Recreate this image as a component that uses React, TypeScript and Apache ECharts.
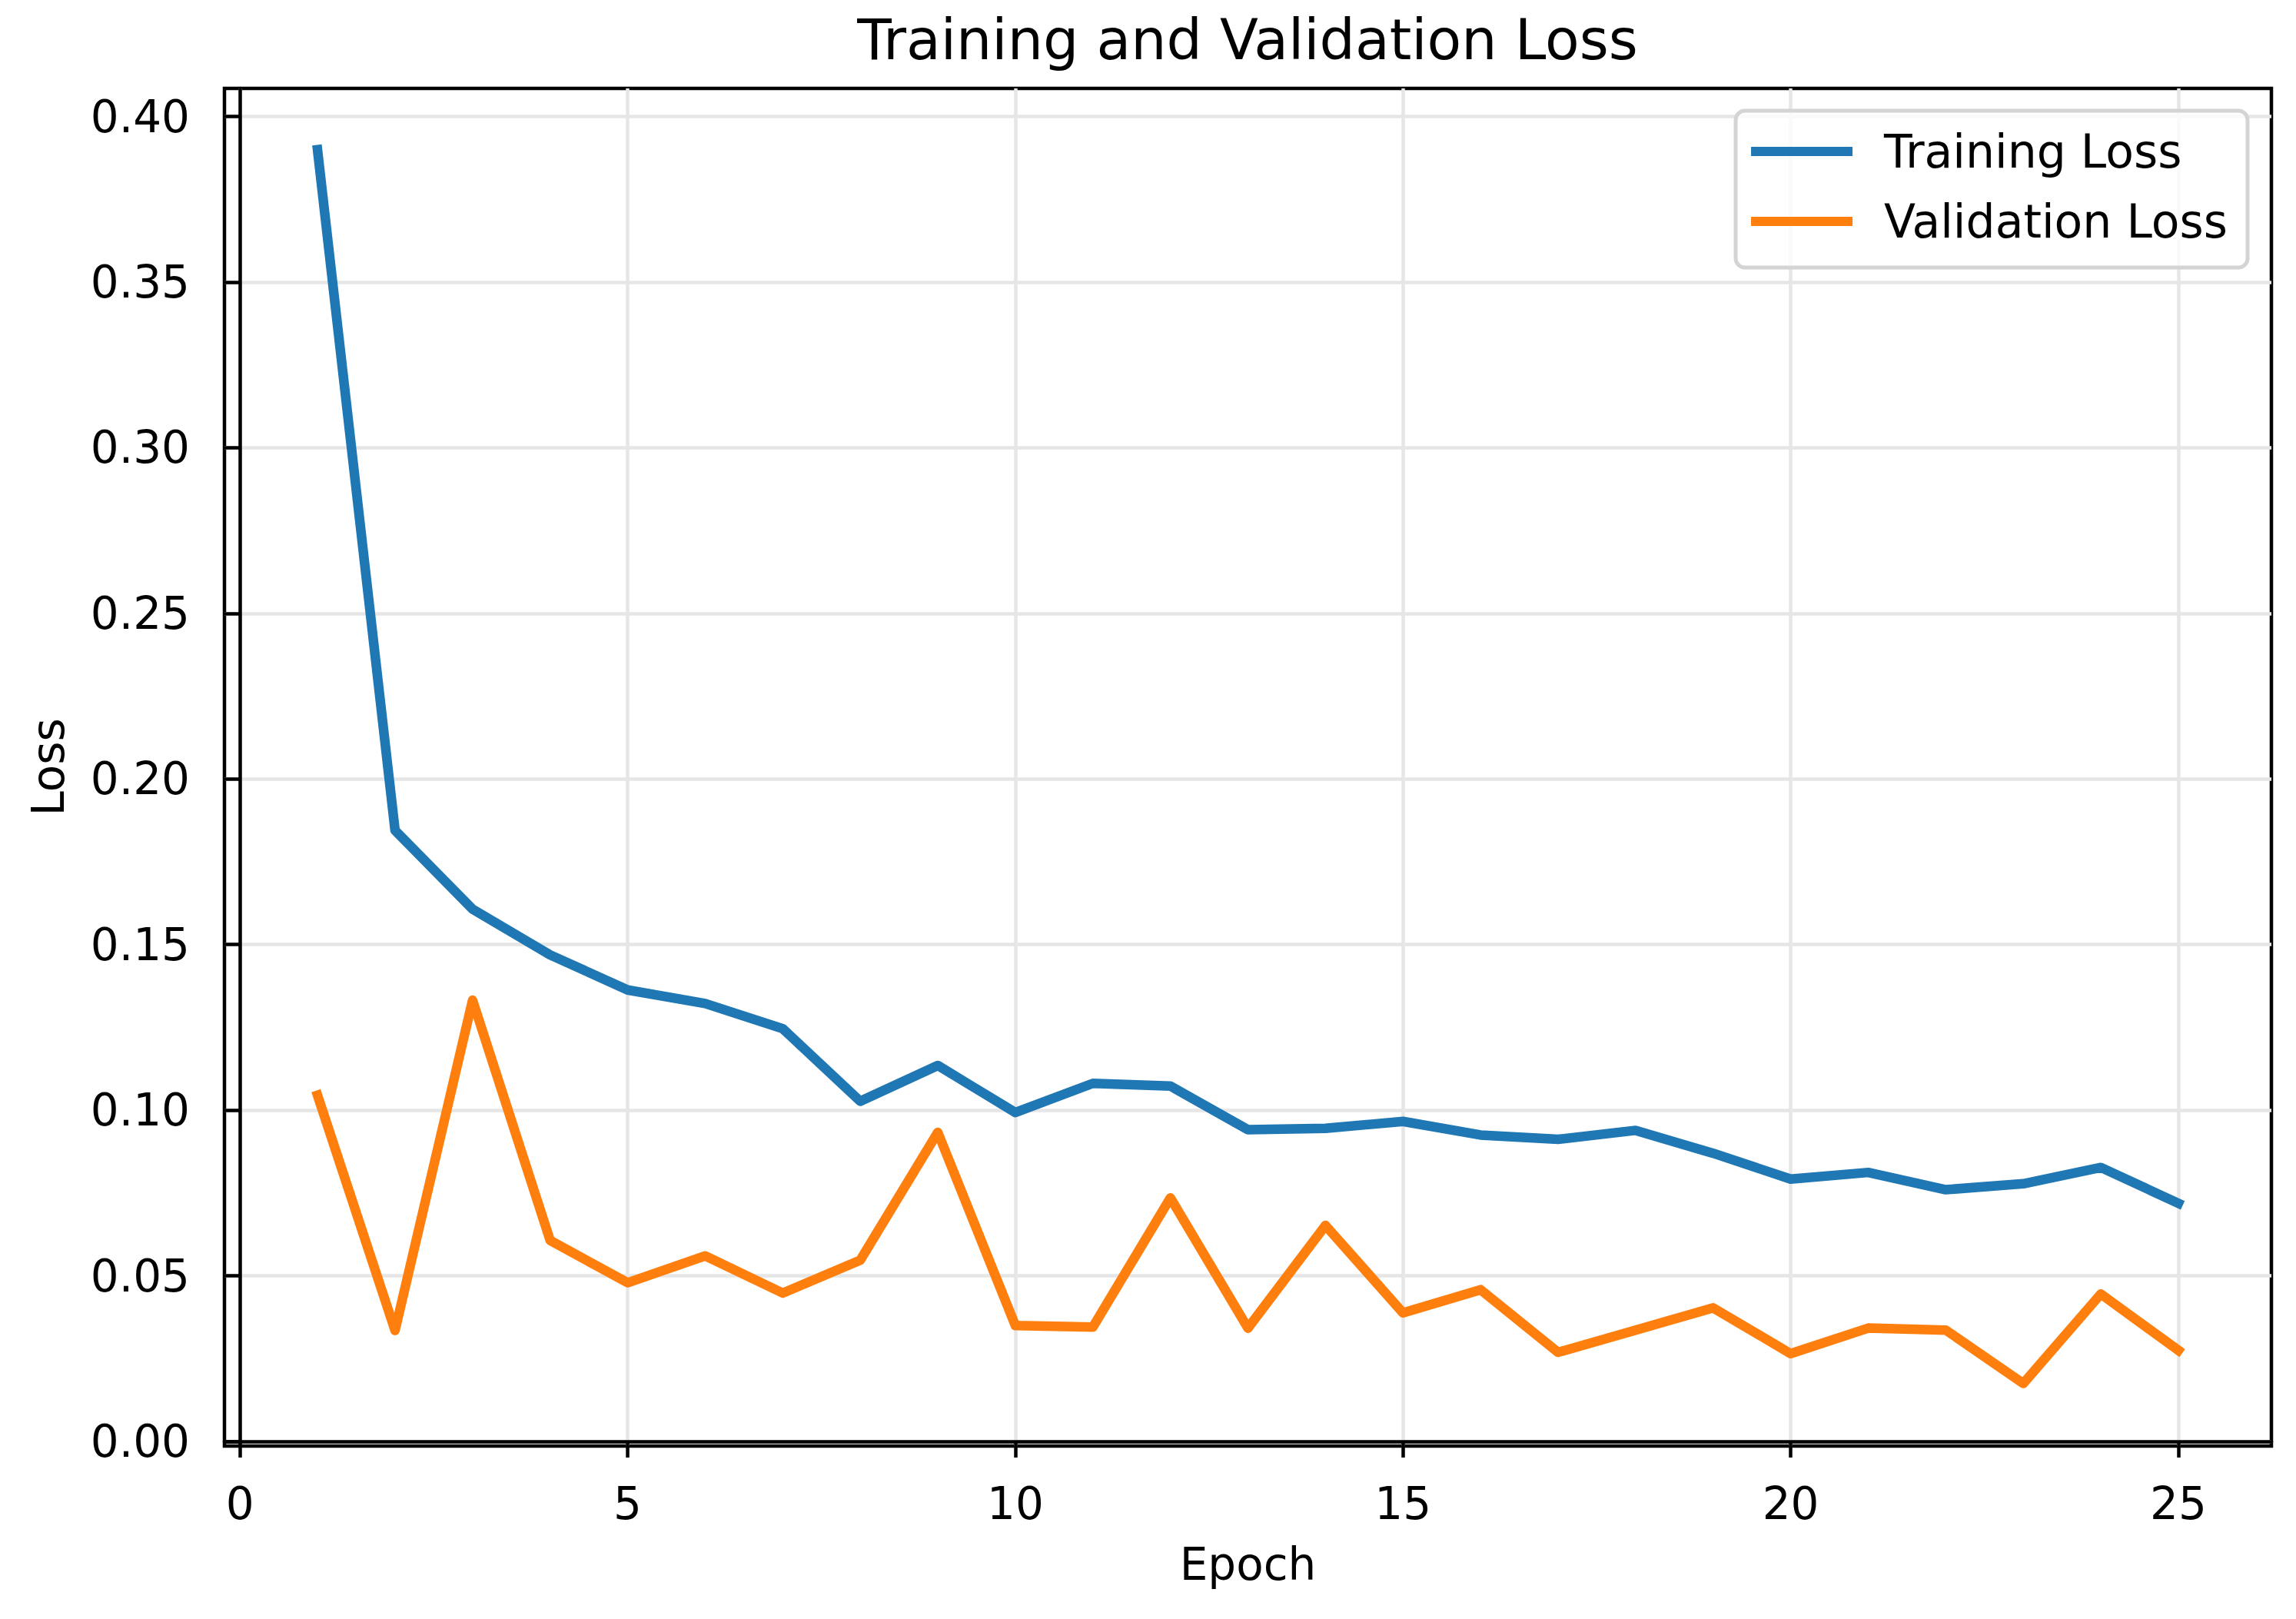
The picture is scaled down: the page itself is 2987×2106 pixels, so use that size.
import React, { useEffect, useRef } from 'react';
import * as echarts from 'echarts';

// values
const epochs = [1, 2, 3, 4, 5, 6, 7, 8, 9, 10, 11, 12, 13, 14, 15, 16, 17, 18, 19, 20, 21, 22, 23, 24, 25];
const trainingLoss = [
  0.390, 0.1845, 0.1607, 0.1469, 0.1363, 0.1322, 0.1246, 0.1027, 0.1135, 0.0993,
  0.1081, 0.1073, 0.0941, 0.0945, 0.0966, 0.0925, 0.0912, 0.0939, 0.0870, 0.0792,
  0.0812, 0.0760, 0.0778, 0.0827, 0.0719,
];
const validationLoss = [
  0.1045, 0.0335, 0.1332, 0.0607, 0.0479, 0.0560, 0.0448, 0.0547, 0.0933, 0.0350,
  0.0345, 0.0735, 0.0342, 0.0652, 0.0388, 0.0458, 0.0269, 0.0336, 0.0403, 0.0265,
  0.0342, 0.0336, 0.0175, 0.0445, 0.0275,
];
const xTicks = [0, 5, 10, 15, 20, 25];
const yTicks = [0, 0.05, 0.1, 0.15, 0.2, 0.25, 0.3, 0.35, 0.4];

const FONT = 'DejaVu Sans';
const SPINE = 4.5;
const LINE_W = 12.5;

const App: React.FC = () => {
  const chartRef = useRef<HTMLDivElement>(null);

  useEffect(() => {
    document.body.style.margin = '0';
    if (!chartRef.current) return;
    const chart = echarts.init(chartRef.current, undefined, { renderer: 'svg' });

    const axisCommon = {
      type: 'value' as const,
      axisLine: { show: true, lineStyle: { color: '#000', width: SPINE } },
      axisTick: { show: true, inside: false, length: 21, lineStyle: { color: '#000', width: SPINE } },
      splitLine: { show: true, lineStyle: { color: '#e6e6e6', width: 4.5 } },
      nameLocation: 'middle' as const,
      nameTextStyle: { fontFamily: FONT, fontSize: 58, color: '#000' },
    };

    chart.setOption({
      animation: false,
      backgroundColor: '#fff',
      title: {
        text: 'Training and Validation Loss',
        left: 1623,
        top: 15,
        textAlign: 'center',
        padding: 0,
        textStyle: { fontFamily: FONT, fontSize: 73, fontWeight: 'normal', color: '#000' },
      },
      grid: {
        left: 292,
        right: 32,
        top: 115,
        bottom: 225,
        containLabel: false,
        outerBoundsMode: 'none',
        show: true,
        borderColor: '#000',
        borderWidth: SPINE,
        backgroundColor: 'transparent',
      },
      legend: {
        right: 63,
        top: 144,
        orient: 'vertical',
        icon: 'rect',
        itemWidth: 132,
        itemHeight: 12,
        itemGap: 31,
        padding: [23, 26, 30, 20],
        backgroundColor: 'rgba(255,255,255,0.8)',
        borderColor: '#d4d4d4',
        borderWidth: 5,
        borderRadius: 12,
        textStyle: { fontFamily: FONT, fontSize: 60, color: '#000', padding: [0, 0, 0, 36] },
        data: ['Training Loss', 'Validation Loss'],
      },
      xAxis: {
        ...axisCommon,
        name: 'Epoch',
        nameGap: 125,
        min: -0.2,
        max: 26.2,
        axisTick: { ...axisCommon.axisTick, customValues: xTicks },
        axisLabel: {
          customValues: xTicks,
          margin: 46,
          fontFamily: FONT,
          fontSize: 58,
          color: '#000',
          formatter: (v: number) => String(v),
        },
      },
      yAxis: {
        ...axisCommon,
        name: 'Loss',
        nameGap: 200,
        min: -0.0014,
        max: 0.4085,
        axisTick: { ...axisCommon.axisTick, customValues: yTicks },
        axisLabel: {
          customValues: yTicks,
          margin: 45,
          fontFamily: FONT,
          fontSize: 58,
          color: '#000',
          formatter: (v: number) => v.toFixed(2),
        },
      },
      series: [
        {
          name: 'Training Loss',
          type: 'line',
          data: epochs.map((e, i) => [e, trainingLoss[i]]),
          showSymbol: false,
          symbol: 'none',
          color: '#1f77b4',
          lineStyle: { color: '#1f77b4', width: LINE_W, cap: 'square', join: 'round' },
        },
        {
          name: 'Validation Loss',
          type: 'line',
          data: epochs.map((e, i) => [e, validationLoss[i]]),
          showSymbol: false,
          symbol: 'none',
          color: '#ff7f0e',
          lineStyle: { color: '#ff7f0e', width: LINE_W, cap: 'square', join: 'round' },
        },
      ],
    });

    return () => {
      chart.dispose();
    };
  }, []);

  return <div ref={chartRef} style={{ width: 2987, height: 2106 }} />;
};

export default App;
